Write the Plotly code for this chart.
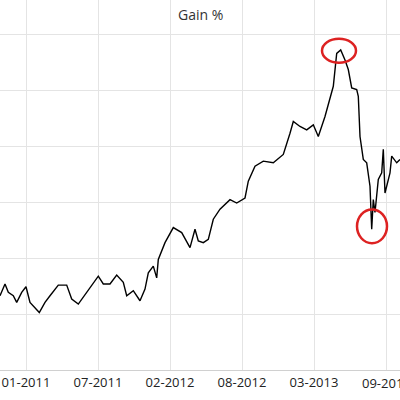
import plotly.graph_objects as go

x = [0,5,8.3,13.3,16.7,21.7,26,30,39.3,45,50,58.3,66.7,71.7,78.3,86.7,98.3,103.3,110,116.7,123.3,126.7,133.3,140,145,148.3,153.3,156.7,158.3,165,173.3,181.7,190,195,198.3,203.3,208.3,213.3,220,230,236.7,245,248.3,255,263.3,273.3,283.3,290,293.3,300,306.7,313.3,318.3,325,330,333.3,336.7,340.7,345,348.3,351.7,356.7,358.3,360,363.3,366.7,370,371.7,373.3,375,378.3,381.7,383.3,385,390,391.7,396.7,400]
gain = [3.3,5.4,3.9,3.3,2.1,3.9,4.9,2.1,0.3,2.1,3.3,5.2,5.2,2.7,1.8,3.9,6.8,5.4,5.4,7.0,5.7,3.3,4.2,2.4,4.5,7.4,8.6,6.5,9.8,12.8,15.5,14.6,11.9,15.2,13.1,12.8,13.4,17.0,18.8,20.5,19.9,20.8,23.8,26.5,27.4,27.1,28.6,32.4,34.5,33.6,33.0,33.9,31.8,35.4,38.4,40.8,46.7,47.3,45.5,43.8,40.5,40.2,39.0,31.8,27.7,27.1,22.9,15.2,20.5,18.2,24.1,25.3,29.5,21.7,25.3,28.3,27.1,27.7]
tick_vals = [26,98,170,242,314,386]
tick_text = ["01-2011","07-2011","02-2012","08-2012","03-2013","09-2013"]

fig = go.Figure(go.Scatter(x=x, y=gain, mode="lines", line=dict(color="black", width=1.4)))
fig.update_layout(
    width=400, height=400, margin=dict(l=0, r=0, t=0, b=30, autoexpand=False),
    paper_bgcolor="white", plot_bgcolor="white", showlegend=False,
    font=dict(family="Open Sans", color="#333"),
    annotations=[
        dict(text="Gain %", x=0.5, y=0.962, xref="paper", yref="paper", yanchor="middle",
             showarrow=False, font=dict(size=14, color="#333")),
        dict(text=tick_text[-1], x=tick_vals[-1], xref="x", y=-0.034, yref="paper", yanchor="middle",
             xanchor="center", showarrow=False, font=dict(size=13, color="#222")),
    ],
    shapes=[
        dict(type="circle", xref="x", yref="y", x0=322, x1=356, y0=45.0, y1=49.3, line=dict(color="#d22", width=2.5)),
        dict(type="circle", xref="x", yref="y", x0=357, x1=387, y0=12.7, y1=18.75, line=dict(color="#d22", width=2.5)),
    ],
)
fig.update_xaxes(range=[0, 400], tickvals=tick_vals, ticktext=tick_text, showgrid=True, automargin=False,
                 gridcolor="#e4e4e4", showline=True, linecolor="#d0d0d0", zeroline=False,
                 tickfont=dict(size=13, color="#222"), ticks="")
fig.update_yaxes(range=[-10, 56.25], dtick=10, showticklabels=False, automargin=False,
                 gridcolor="#e4e4e4", zeroline=False)
fig.write_html("out.html", config={"displayModeBar": False},
               post_script="document.body.style.margin='0';document.body.style.overflow='hidden';")
